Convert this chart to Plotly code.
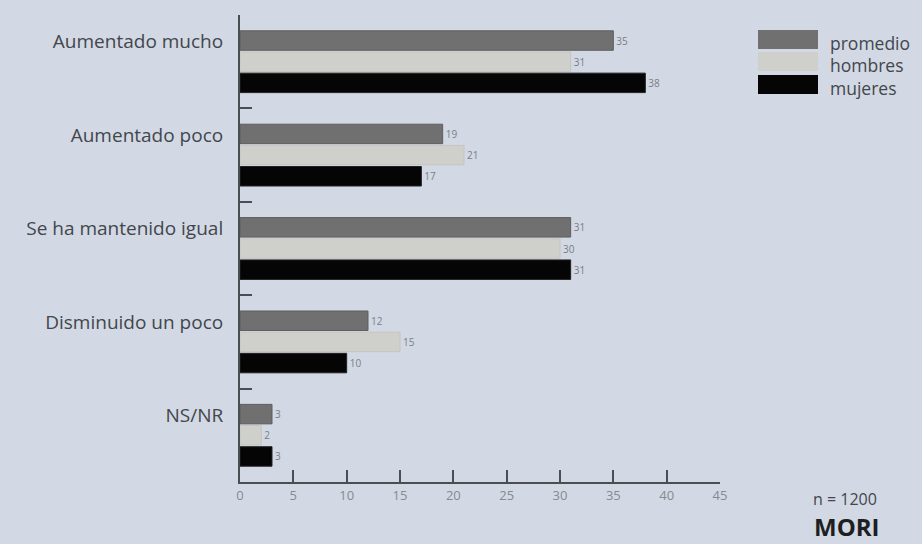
import plotly.graph_objects as go

categories = ["Aumentado mucho", "Aumentado poco", "Se ha mantenido igual", "Disminuido un poco", "NS/NR"]
series_names = ["promedio", "hombres", "mujeres"]
promedio = [35, 19, 31, 12, 3]
hombres = [31, 21, 30, 15, 2]
mujeres = [38, 17, 31, 10, 3]
colors = ["#707070", "#cfd0cc", "#050505"]
line_colors = ["#5e5e5e", "#c4c5c2", "#222222"]
x_ticks = [0, 5, 10, 15, 20, 25, 30, 35, 40, 45]

BG = "#d2d9e4"
FONT = "Open Sans"
TXT = "#43464c"

# plot-area pixel frame (for converting layout decorations to paper coords)
PL, PR, PT, PB = 240, 720, 15, 482


def px(x):
    return (x - PL) / (PR - PL)


def py(y):
    return (PB - y) / (PB - PT)


fig = go.Figure()
for name, vals, c, lc in zip(series_names, [promedio, hombres, mujeres], colors, line_colors):
    fig.add_trace(go.Bar(
        y=categories, x=vals, name=name, orientation="h",
        marker=dict(color=c, line=dict(color=lc, width=1)),
        text=[str(v) for v in vals], textposition="outside",
        textfont=dict(size=10, color="#7a7e85", family=FONT),
        cliponaxis=False, showlegend=False,
    ))

fig.update_layout(
    width=922, height=544,
    paper_bgcolor=BG, plot_bgcolor=BG,
    margin=dict(l=PL, r=922 - PR, t=PT, b=544 - PB),
    barmode="group", bargap=0.32, bargroupgap=0.08,
    font=dict(family=FONT, color=TXT),
    xaxis=dict(
        range=[0, 45], tickvals=x_ticks, ticks="inside", ticklen=12, tickwidth=1.5,
        tickcolor="#4a4d52", showline=True, linecolor="#4a4d52", linewidth=2,
        showgrid=False, zeroline=False,
        tickfont=dict(size=13, color="#868a91", family=FONT),
    ),
    yaxis=dict(
        autorange="reversed", type="category", tickson="boundaries",
        ticks="inside", ticklen=12, tickwidth=1.5, tickcolor="#4a4d52",
        showline=True, linecolor="#4a4d52", linewidth=2, showgrid=False,
        tickfont=dict(size=19, color=TXT, family=FONT),
        ticklabelstandoff=11, ticklabelshift=20,
    ),
)

# legend drawn at top right
sw_tops = [30, 52, 75]
for name, c, t in zip(series_names, colors, sw_tops):
    fig.add_shape(type="rect", xref="paper", yref="paper",
                  x0=px(758), x1=px(818), y0=py(t + 19), y1=py(t),
                  fillcolor=c, line=dict(width=0), layer="above")
    fig.add_annotation(xref="paper", yref="paper", x=px(828), y=py(t + 13),
                       text=name, showarrow=False, xanchor="left", yanchor="middle",
                       font=dict(size=17.5, color=TXT, family=FONT))

fig.add_annotation(xref="paper", yref="paper", x=px(811), y=py(499),
                   text="n = 1200", showarrow=False, xanchor="left", yanchor="middle",
                   font=dict(size=16, color=TXT, family=FONT))
fig.add_annotation(xref="paper", yref="paper", x=px(812), y=py(526),
                   text="<b>MORI</b>", showarrow=False, xanchor="left", yanchor="middle",
                   font=dict(size=24, color="#1e1f22", family=FONT))

fig.write_html("out.html", config={"displayModeBar": False},
               post_script="document.body.style.margin='0';document.body.style.background='%s';" % BG)
